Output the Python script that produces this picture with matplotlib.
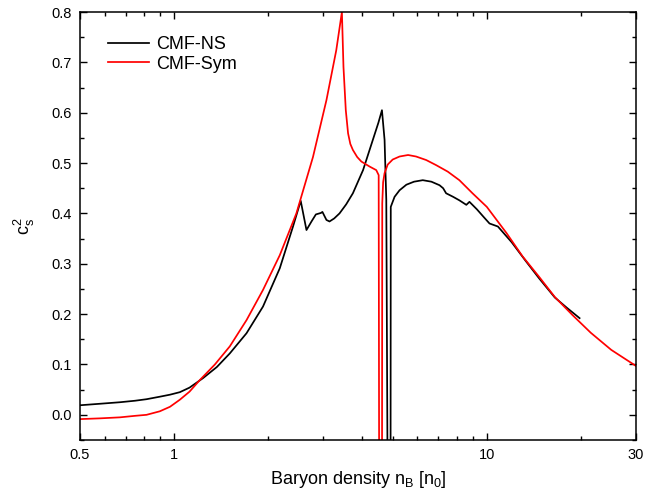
import matplotlib
matplotlib.use("Agg")
import matplotlib.pyplot as plt
from matplotlib.ticker import FixedLocator, NullFormatter, MultipleLocator, FormatStrFormatter

plt.rcParams['font.family'] = ['Liberation Sans', 'DejaVu Sans']
plt.rcParams['mathtext.default'] = 'regular'

# CMF-NS (black)
ns_x = [0.5, 0.58, 0.671, 0.75, 0.816, 0.9, 0.97, 1.043, 1.12, 1.238, 1.37, 1.507,
        1.704, 1.924, 2.177, 2.40, 2.54, 2.65, 2.75, 2.84, 2.95, 2.98, 3.07,
        3.14, 3.25, 3.38, 3.55, 3.73, 4.02, 4.32, 4.50, 4.62, 4.71, 4.77,
        4.83, 4.92, 4.93, 5.07, 5.26, 5.53, 5.85, 6.24, 6.65, 7.06, 7.25, 7.41,
        7.8, 8.17, 8.6, 8.8, 9.3, 9.8, 10.2, 10.85, 12.0, 13.3, 14.7, 16.5, 18.0, 19.8]
ns_y = [0.019, 0.022, 0.025, 0.028, 0.031, 0.036, 0.040, 0.045, 0.054, 0.073, 0.095, 0.122,
        0.162, 0.215, 0.291, 0.374, 0.425, 0.367, 0.384, 0.398, 0.401, 0.403, 0.387,
        0.384, 0.390, 0.400, 0.418, 0.440, 0.486, 0.546, 0.580, 0.605, 0.546, 0.427,
        -0.30, -0.30, 0.413, 0.433, 0.446, 0.457, 0.463, 0.466, 0.463, 0.456, 0.450, 0.440,
        0.433, 0.426, 0.417, 0.423, 0.408, 0.392, 0.380, 0.374, 0.343, 0.306, 0.271, 0.233, 0.213, 0.192]

# CMF-Sym (red)
sym_x = [0.5, 0.58, 0.671, 0.75, 0.816, 0.9, 0.97, 1.043, 1.12, 1.208, 1.35, 1.507,
         1.704, 1.924, 2.177, 2.46, 2.78, 3.07, 3.30, 3.44, 3.48, 3.54, 3.60, 3.66,
         3.73, 3.85, 3.97, 4.22, 4.43, 4.51, 4.53, 4.62, 4.63, 4.66, 4.71, 4.82, 5.0,
         5.26, 5.6, 5.94, 6.4, 6.88, 7.5, 8.17, 9.0, 10.0, 11.56, 13.0, 14.7, 16.5,
         18.8, 21.5, 25.0, 30.0]
sym_y = [-0.0085, -0.007, -0.005, -0.002, 0.000, 0.007, 0.016, 0.030, 0.046, 0.069, 0.100, 0.136,
         0.188, 0.248, 0.317, 0.400, 0.512, 0.625, 0.724, 0.800, 0.691, 0.605, 0.559, 0.538,
         0.526, 0.512, 0.503, 0.493, 0.486, 0.476, -0.30, -0.30, 0.420, 0.462, 0.480, 0.497, 0.507,
         0.513, 0.516, 0.513, 0.506, 0.496, 0.483, 0.466, 0.440, 0.413, 0.361, 0.315, 0.274, 0.234,
         0.198, 0.163, 0.129, 0.097]

x_major = [0.5, 1, 10, 30]
x_labels = ['0.5', '1', '10', '30']
x_minor = [0.6, 0.7, 0.8, 0.9, 2, 3, 4, 5, 6, 7, 8, 9, 20]

fig = plt.figure(figsize=(6.46, 4.99), dpi=100)
ax = fig.add_axes([80/646, 59/499, 556/646, 428/499])

ax.plot(ns_x, ns_y, color='black', lw=1.25, label='CMF-NS')
ax.plot(sym_x, sym_y, color='#ff0000', lw=1.25, label='CMF-Sym')

ax.set_xscale('log')
ax.set_xlim(0.5, 30)
ax.set_ylim(-0.05, 0.8)
ax.xaxis.set_major_locator(FixedLocator(x_major))
ax.set_xticklabels(x_labels)
ax.xaxis.set_minor_locator(FixedLocator(x_minor))
ax.xaxis.set_minor_formatter(NullFormatter())
ax.yaxis.set_major_locator(MultipleLocator(0.1))
ax.yaxis.set_minor_locator(MultipleLocator(0.05))
ax.yaxis.set_major_formatter(FormatStrFormatter('%.1f'))

ax.tick_params(which='both', direction='in', top=True, right=True, labelsize=10.5, width=1)
ax.tick_params(which='major', length=5, pad=6)
ax.tick_params(which='minor', length=3)
for s in ax.spines.values():
    s.set_linewidth(1.1)

ax.set_xlabel('Baryon density n$_B$ [n$_0$]', fontsize=13, labelpad=5)
ax.set_ylabel(r'c$_s^2$', fontsize=13, labelpad=10)

ax.legend(loc='upper left', bbox_to_anchor=(0.05, 0.944), frameon=False,
          borderpad=0, borderaxespad=0,
          fontsize=13, handlelength=2.3, handletextpad=0.4, labelspacing=0.15)

fig.savefig('out.png', dpi=100)
